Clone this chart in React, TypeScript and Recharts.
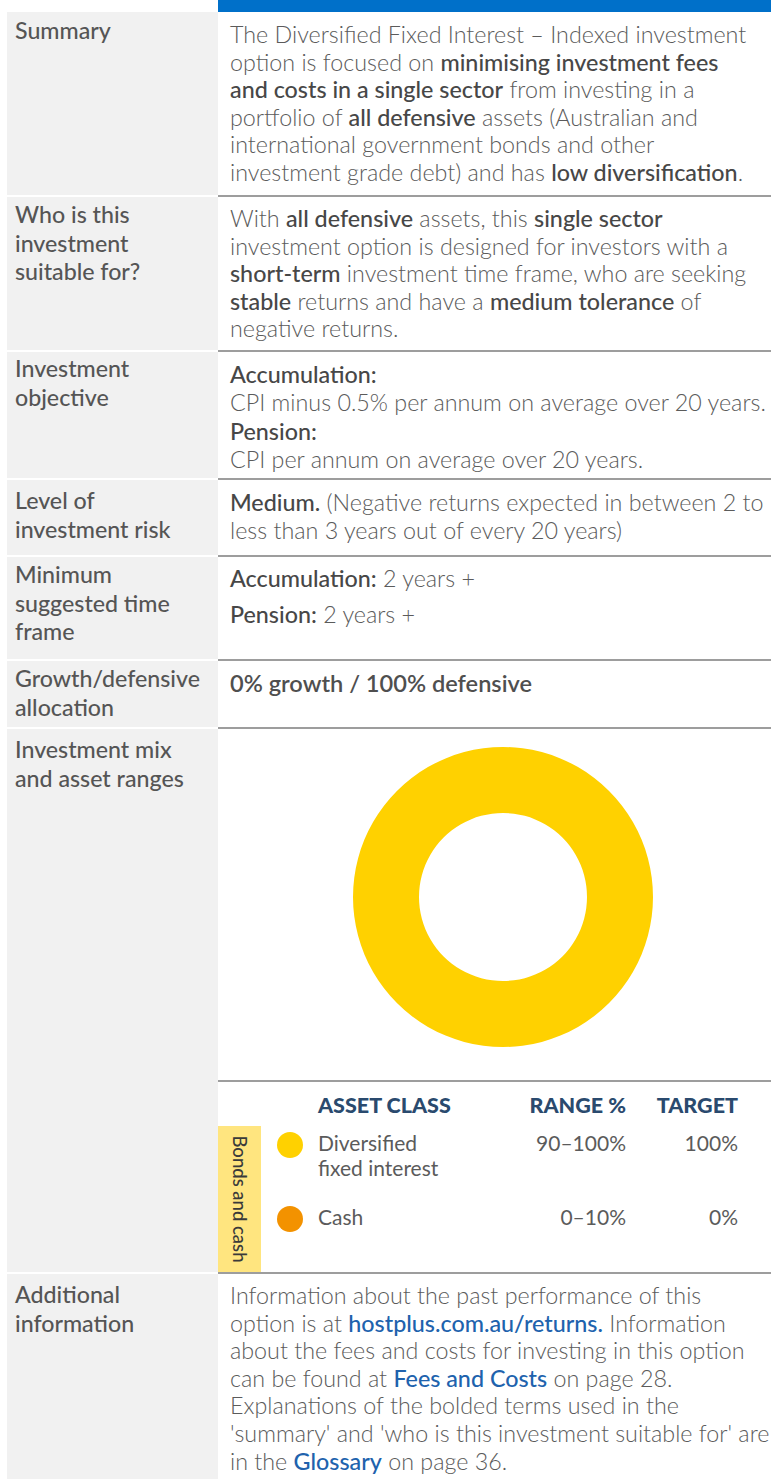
import React from 'react';
import { PieChart, Pie, Cell } from 'recharts';

const assetClasses = ['Diversified fixed interest', 'Cash'];
const assetRanges = ['90–100%', '0–10%'];
const assetTargets = [100, 0];
const assetColors = ['#FFD100', '#F39200'];
const sectorLabel = 'Bonds and cash';
const tableHeaders = ['ASSET CLASS', 'RANGE %', 'TARGET'];

const pieData = assetClasses.map((name, i) => ({ name, value: assetTargets[i] }));

const FONT = 'Lato, "Noto Sans", sans-serif';
const TEXT = '#5b5b5b';
const STRONG = '#474747';
const LINK = '#2062ad';
const NAVY = '#2a4a6e';

// row bands of the table, [top, bottom]
const bands = [
  [12, 195],
  [197, 350],
  [352, 478],
  [480, 555],
  [557, 659],
  [661, 727],
  [729, 1272],
  [1274, 1479],
];

const B = ({ children }: { children: React.ReactNode }) => (
  <span style={{ fontWeight: 500, color: STRONG }}>{children}</span>
);
const A = ({ children }: { children: React.ReactNode }) => (
  <span style={{ fontWeight: 500, color: LINK }}>{children}</span>
);

const Block = ({ x, y, lh = 27.6, size = 23.3, weight = 300, color = TEXT, children }: any) => (
  <div
    style={{
      position: 'absolute',
      left: x,
      top: y,
      fontSize: size,
      lineHeight: `${lh}px`,
      fontWeight: weight,
      color,
      whiteSpace: 'nowrap',
    }}
  >
    {children}
  </div>
);

const Label = ({ y, children }: any) => (
  <Block x={15} y={y} lh={28.5} size={23.2} weight={500} color="#555">
    {children}
  </Block>
);

const headStyle: React.CSSProperties = {
  position: 'absolute',
  top: 1091,
  fontSize: 21.5,
  fontWeight: 900,
  color: NAVY,
  lineHeight: '28px',
  whiteSpace: 'nowrap',
};

const cellStyle: React.CSSProperties = {
  position: 'absolute',
  fontSize: 21,
  lineHeight: '25px',
  color: TEXT,
  fontWeight: 400,
};

export default function App() {
  return (
    <div
      style={{
        position: 'absolute',
        left: 0,
        top: 0,
        width: 771,
        height: 1479,
        background: '#fff',
        fontFamily: FONT,
        overflow: 'hidden',
      }}
    >
      <div style={{ position: 'absolute', left: 218, top: 0, width: 553, height: 12, background: '#0070c9' }} />
      {bands.map(([t, b], i) => (
        <React.Fragment key={i}>
          <div style={{ position: 'absolute', left: 7, top: t, width: 211, height: b - t, background: '#f1f1f1' }} />
          {i < bands.length - 1 && (
            <div style={{ position: 'absolute', left: 218, top: b, width: 553, height: 2, background: '#9d9d9d' }} />
          )}
        </React.Fragment>
      ))}

      <Label y={16}>Summary</Label>
      <Block x={230} y={21}>
        The Diversified Fixed Interest – Indexed investment<br />
        option is focused on <B>minimising investment fees</B><br />
        <B>and costs in a single sector</B> from investing in a<br />
        portfolio of <B>all defensive</B> assets (Australian and<br />
        international government bonds and other<br />
        investment grade debt) and has <B>low diversification</B>.
      </Block>

      <Label y={200}>
        Who is this<br />
        investment<br />
        suitable for?
      </Label>
      <Block x={230} y={205}>
        With <B>all defensive</B> assets, this <B>single sector</B><br />
        investment option is designed for investors with a<br />
        <B>short-term</B> investment time frame, who are seeking<br />
        <B>stable</B> returns and have a <B>medium tolerance</B> of<br />
        negative returns.
      </Block>

      <Label y={354}>
        Investment<br />
        objective
      </Label>
      <Block x={230} y={361}>
        <B>Accumulation:</B><br />
        CPI minus 0.5% per annum on average over 20 years.
      </Block>
      <Block x={230} y={418}>
        <B>Pension:</B><br />
        CPI per annum on average over 20 years.
      </Block>

      <Label y={486}>
        Level of<br />
        investment risk
      </Label>
      <Block x={230} y={489}>
        <B>Medium.</B> (Negative returns expected in between 2 to<br />
        less than 3 years out of every 20 years)
      </Block>

      <Label y={560}>
        Minimum<br />
        suggested time<br />
        frame
      </Label>
      <Block x={230} y={565}>
        <B>Accumulation:</B> 2 years +
      </Block>
      <Block x={230} y={601}>
        <B>Pension:</B> 2 years +
      </Block>

      <Label y={664}>
        Growth/defensive<br />
        allocation
      </Label>
      <Block x={230} y={670} size={23.6} weight={600} color="#4f4f4f">
        0% growth / 100% defensive
      </Block>

      <Label y={735}>
        Investment mix<br />
        and asset ranges
      </Label>

      <div style={{ position: 'absolute', left: 338, top: 732 }}>
        <PieChart width={320} height={320}>
          <Pie
            data={pieData}
            dataKey="value"
            nameKey="name"
            cx={160}
            cy={160}
            innerRadius={84}
            outerRadius={150}
            startAngle={90}
            endAngle={-270}
            stroke="none"
            isAnimationActive={false}
          >
            {pieData.map((d, i) => (
              <Cell key={d.name} fill={assetColors[i]} />
            ))}
          </Pie>
        </PieChart>
      </div>

      <div style={{ position: 'absolute', left: 218, top: 1080, width: 553, height: 2, background: '#9d9d9d' }} />
      <div style={{ position: 'absolute', left: 218, top: 1126, width: 43, height: 146, background: '#ffe57f' }} />
      <div
        style={{
          position: 'absolute',
          left: 240,
          top: 1199,
          transform: 'translate(-50%, -50%) rotate(90deg)',
          fontSize: 18.5,
          fontWeight: 500,
          color: '#3a3a3a',
          whiteSpace: 'nowrap',
        }}
      >
        {sectorLabel}
      </div>

      <div style={{ ...headStyle, left: 318 }}>{tableHeaders[0]}</div>
      <div style={{ ...headStyle, right: 771 - 626 }}>{tableHeaders[1]}</div>
      <div style={{ ...headStyle, right: 771 - 738 }}>{tableHeaders[2]}</div>

      {assetClasses.map((name, i) => {
        const top = [1130, 1204][i];
        return (
          <React.Fragment key={name}>
            <div
              style={{
                position: 'absolute',
                left: 277,
                top: top + 2,
                width: 26,
                height: 26,
                borderRadius: 13,
                background: assetColors[i],
              }}
            />
            <div style={{ ...cellStyle, left: 318, top, width: 140 }}>{name}</div>
            <div style={{ ...cellStyle, right: 771 - 626, top }}>{assetRanges[i]}</div>
            <div style={{ ...cellStyle, right: 771 - 738, top }}>{assetTargets[i]}%</div>
          </React.Fragment>
        );
      })}

      <Label y={1280}>
        Additional<br />
        information
      </Label>
      <Block x={230} y={1282}>
        Information about the past performance of this<br />
        option is at <A>hostplus.com.au/returns.</A> Information<br />
        about the fees and costs for investing in this option<br />
        can be found at <A>Fees and Costs</A> on page 28.<br />
        Explanations of the bolded terms used in the<br />
        'summary' and 'who is this investment suitable for' are<br />
        in the <A>Glossary</A> on page 36.
      </Block>
    </div>
  );
}
